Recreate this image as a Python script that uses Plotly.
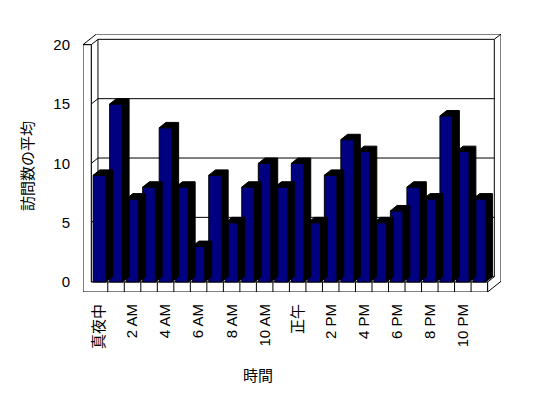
import plotly.graph_objects as go

# ---- data ----
hours = list(range(24))
visits = [9, 15, 7, 8, 13, 8, 3, 9, 5, 8, 10, 8, 10, 5, 9, 12, 11, 5, 6, 8, 7, 14, 11, 7]
tick_labels = ["真夜中", "2 AM", "4 AM", "6 AM", "8 AM", "10 AM",
               "正午", "2 PM", "4 PM", "6 PM", "8 PM", "10 PM"]
y_ticks = [0, 5, 10, 15, 20]
y_title = "訪問数の平均"
x_title = "時間"

# ---- 3D look parameters (data units) ----
DX = 0.406     # depth shift in x per depth unit
DY = 0.45      # depth shift in y per depth unit
FLOOR = 0.84   # floor slab thickness
WALL = 0.5     # left wall slab thickness
BW = 0.77      # bar front width
YMAX = 20
N = len(hours)

FONT = "Liberation Sans, Noto Sans CJK JP, Arial, sans-serif"

fig = go.Figure()

def P(pts, close=True):
    s = "M " + " L ".join(f"{x},{y}" for x, y in pts)
    return s + (" Z" if close else "")

shapes = []
line = dict(color="black", width=1)
# outer slab outline (back wall top band, right edge, floor)
shapes.append(dict(type="path", layer="below", xref="x", yref="y", line=line, fillcolor="white",
                   path=P([(-WALL, YMAX), (-WALL + 2 * DX, YMAX + 2 * DY), (N + 2 * DX, YMAX + 2 * DY),
                           (N + 2 * DX, -FLOOR + 2 * DY), (N, -FLOOR), (N, 0), (0, 0), (0, YMAX)])))
# inner back wall face
shapes.append(dict(type="path", layer="below", xref="x", yref="y", line=line, fillcolor="white",
                   path=P([(DX, DY), (DX, YMAX + DY), (N + DX, YMAX + DY), (N + DX, DY)])))
# edges
shapes.append(dict(type="path", layer="below", xref="x", yref="y", line=line,
                   path=P([(0, YMAX), (DX, YMAX + DY)], close=False)))
shapes.append(dict(type="path", layer="below", xref="x", yref="y", line=line,
                   path=P([(N + DX, YMAX + DY), (N + 2 * DX, YMAX + 2 * DY)], close=False)))
shapes.append(dict(type="path", layer="below", xref="x", yref="y", line=line,
                   path=P([(N, 0), (N + DX, DY)], close=False)))
# gridlines on back wall and left wall + ticks on front face
for t in y_ticks[1:-1]:
    shapes.append(dict(type="path", layer="below", xref="x", yref="y", line=line,
                       path=P([(-WALL, t), (0, t), (DX, t + DY), (N + DX, t + DY)], close=False)))
# front face (left wall + floor)
shapes.append(dict(type="path", layer="below", xref="x", yref="y", line=line, fillcolor="white",
                   path=P([(-WALL, -FLOOR), (N, -FLOOR), (N, 0), (0, 0), (0, YMAX), (-WALL, YMAX)])))
# floor cell dividers
for k in range(1, N):
    shapes.append(dict(type="line", layer="below", xref="x", yref="y", line=line,
                       x0=k, x1=k, y0=-FLOOR, y1=0))

# bar side+top faces
for h, v in zip(hours, visits):
    a = h + 0.5 - BW / 2
    b = h + 0.5 + BW / 2
    pts = [(a, v), (a + DX, v + DY), (b + DX, v + DY), (b + DX, DY), (b, 0), (b, v), (a, v)]
    fig.add_trace(go.Scatter(x=[p[0] for p in pts], y=[p[1] for p in pts], mode="lines",
                             fill="toself", fillcolor="black", line=dict(color="black", width=1),
                             hoverinfo="skip", showlegend=False))

# bar front faces
fig.add_trace(go.Bar(x=[h + 0.5 for h in hours], y=visits, width=BW,
                     marker=dict(color="#000080", line=dict(color="black", width=1)),
                     showlegend=False, hoverinfo="skip"))

fig.update_layout(
    width=540, height=390,
    margin=dict(l=75, r=47, t=26, b=106),
    paper_bgcolor="white", plot_bgcolor="white",
    shapes=shapes,
    font=dict(family=FONT, size=15, color="black"),
    xaxis=dict(range=[-WALL, N + 2 * DX], showgrid=False, zeroline=False, showline=False,
               tickmode="array", tickvals=[h + 0.5 for h in hours[::2]], ticktext=tick_labels,
               tickangle=-90, ticks="", ticklabelstandoff=8,
               tickfont=dict(family=FONT, size=15, color="black")),
    yaxis=dict(range=[-FLOOR, YMAX + 2 * DY], showgrid=False, zeroline=False, showline=False,
               tickmode="array", tickvals=y_ticks, ticks="", ticklabelstandoff=12,
               tickfont=dict(family=FONT, size=15, color="black")),
    annotations=[
        dict(text=y_title, xref="paper", yref="paper", x=(27 - 83) / 418, y=(292 - 166) / 258,
             showarrow=False, textangle=-90, font=dict(family=FONT, size=15, color="black"),
             xanchor="center", yanchor="middle"),
        dict(text=x_title, xref="paper", yref="paper", x=(258 - 83) / 418, y=(292 - 375.5) / 258,
             showarrow=False, font=dict(family=FONT, size=15, color="black"),
             xanchor="center", yanchor="middle"),
    ],
)

fig.write_html("out.html")
